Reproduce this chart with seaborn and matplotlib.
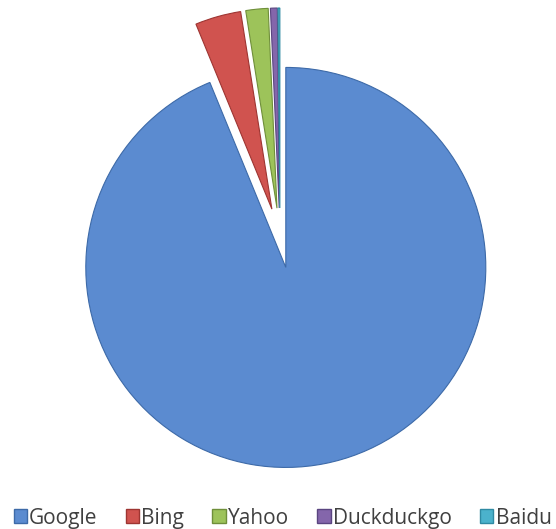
import matplotlib
matplotlib.use("Agg")
import matplotlib.pyplot as plt
import seaborn as sns
from matplotlib.patches import Patch

engines = ["Google", "Bing", "Yahoo", "Duckduckgo", "Baidu"]
shares = [93.8, 3.7, 1.8, 0.55, 0.15]
colors = ["#5b8bd0", "#d0534f", "#9dc35a", "#8466ab", "#4bb2cc"]
edges = ["#3d6aa8", "#9e3532", "#6f8f3a", "#5a4580", "#2f8aa3"]

sns.set_theme(style="white")
plt.rcParams["font.family"] = ["Open Sans", "DejaVu Sans"]

fig = plt.figure(figsize=(5.56, 5.29), dpi=100)
ax = fig.add_axes([0, 0, 1, 1])

wedges, _ = ax.pie(shares, colors=colors, startangle=90, counterclock=False,
                   explode=[0.15] * len(shares), radius=1.0,
                   wedgeprops=dict(linewidth=0.8))
for w, ec in zip(wedges, edges):
    w.set_edgecolor(ec)
ax.axis("off")
ax.set_xlim(-1.40, 1.38)
ax.set_ylim(-1.455, 1.19)
ax.set_aspect("auto")

handles = [Patch(facecolor=c, edgecolor=e, label=n) for n, c, e in zip(engines, colors, edges)]
fig.legend(handles=handles, loc="lower center", bbox_to_anchor=(0.508, -0.035), ncol=5,
           frameon=False, fontsize=15, handlelength=0.65, handleheight=0.65,
           handletextpad=0.1, columnspacing=1.35, labelcolor="#404040")

fig.savefig("out.png", dpi=100)
